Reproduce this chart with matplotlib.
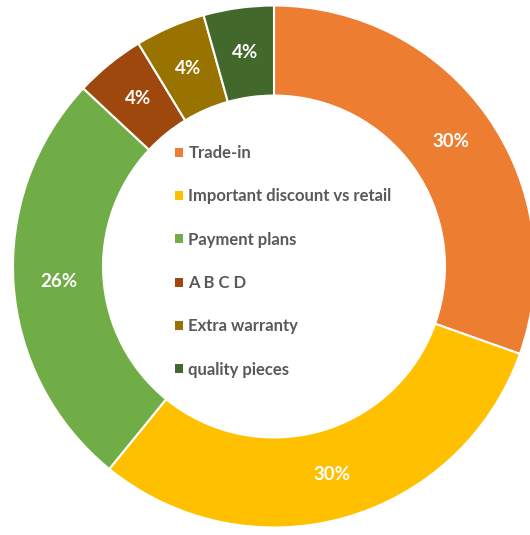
import matplotlib.pyplot as plt
import numpy as np
from matplotlib.patches import Patch

categories = ['Trade-in', 'Important discount vs retail', 'Payment plans',
              'A B C D', 'Extra warranty', 'quality pieces']
responses = [7, 7, 6, 1, 1, 1]
colors = ['#ED7D31', '#FFC000', '#70AD47', '#9E480E', '#997300', '#43682B']

plt.rcParams['font.family'] = ['Lato', 'DejaVu Sans']

fig = plt.figure(figsize=(5.3, 5.35), dpi=100)
ax = fig.add_axes([0, 0, 1, 1])

outer = 1.0
ring = 0.345
wedges, _ = ax.pie(responses, colors=colors, startangle=90, counterclock=False,
                   radius=outer,
                   wedgeprops=dict(width=ring, edgecolor='white', linewidth=1.5))

# percentage labels in the middle of the ring
total = sum(responses)
mid_r = outer - ring / 2
start = 90.0
for v in responses:
    span = 360.0 * v / total
    ang = np.deg2rad(start - span / 2)
    ax.text(mid_r * np.cos(ang), mid_r * np.sin(ang), f'{100 * v / total:.0f}%',
            ha='center', va='center', color='white', fontsize=13.5,
            fontweight='bold')
    start -= span

ax.set_xlim(-1.0498, 0.9808)
ax.set_ylim(-1.0287, 1.0211)
ax.set_aspect('auto')
ax.axis('off')

handles = [Patch(facecolor=c, edgecolor='none') for c in colors]
leg = ax.legend(handles, categories, loc='upper left',
                bbox_to_anchor=(175 / 530, 1 - 145 / 535),
                bbox_transform=fig.transFigure, frameon=False,
                fontsize=12, handlelength=0.45, handleheight=0.45,
                handletextpad=0.35, labelspacing=1.64, borderaxespad=0,
                borderpad=0)
for t in leg.get_texts():
    t.set_color('#595959')
    t.set_fontweight('bold')

fig.savefig('out.png', dpi=100)
